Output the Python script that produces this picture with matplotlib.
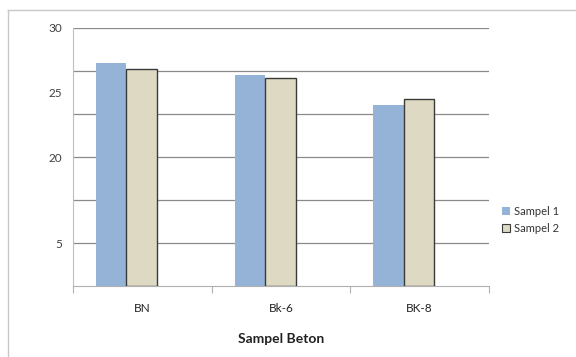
import matplotlib
matplotlib.use("Agg")
import matplotlib.pyplot as plt
from matplotlib.lines import Line2D
from matplotlib.patches import Patch
import numpy as np

plt.rcParams['font.family'] = ['Lato', 'DejaVu Sans']

categories = ["BN", "Bk-6", "BK-8"]
sampel1 = [25.9, 24.5, 21.05]
sampel2 = [25.25, 24.2, 21.8]
ytick_vals = [5, 15, 22.5, 30]
ytick_labels = ["5", "20", "25", "30"]
grid_vals = [5, 10, 15, 20, 25, 30]

fig = plt.figure(figsize=(5.76, 3.57), dpi=100)
ax = fig.add_axes([73/576, 1-286/357, (489-73)/576, (286-28)/357])

x = np.arange(len(categories))
w = 0.22
ax.bar(x - 0.225, sampel1, width=w, color="#95B3D7", edgecolor="none", zorder=3)
ax.bar(x - 0.005, sampel2, width=w, color="#DDD9C3", edgecolor="#3a3a3a", linewidth=1.0, zorder=3)

ax.set_xlim(-0.5, 2.5)
ax.set_ylim(0, 30)
for g in grid_vals:
    ax.axhline(g, color="#8a8a8a", linewidth=0.9, zorder=1)

ax.set_yticks(ytick_vals + [0, 10, 20, 25])
ax.set_yticklabels(ytick_labels + ["", "", "", ""])
ax.set_yticks([0, 5, 10, 15, 20, 25, 30], minor=True)
ax.tick_params(axis='y', which='major', length=0, labelsize=8.5, colors="#404040", pad=8)
ax.tick_params(axis='y', which='minor', length=5, color="#b0b0b0")

ax.set_xticks([-0.5, 0.5, 1.5, 2.5])
ax.set_xticklabels([])
ax.set_xticks(x, minor=True)
ax.set_xticklabels(categories, minor=True)
ax.tick_params(axis='x', which='major', length=5, color="#b0b0b0", direction='out')
ax.tick_params(axis='x', which='minor', length=0, labelsize=8.5, colors="#222222", pad=12)

for s in ["top", "right"]:
    ax.spines[s].set_visible(False)
ax.spines["left"].set_color("#c0c0c0")
ax.spines["bottom"].set_color("#b0b0b0")

ax.set_xlabel("Sampel Beton", fontsize=10, fontweight="bold", color="#222222", labelpad=14)

handles = [Patch(facecolor="#95B3D7", edgecolor="none"),
           Patch(facecolor="#DDD9C3", edgecolor="#3a3a3a", linewidth=0.8)]
fig.legend(handles, ["Sampel 1", "Sampel 2"], loc="center left",
           bbox_to_anchor=(492/576, 1-220/357), frameon=False, fontsize=8,
           handlelength=0.7, handleheight=0.7, handletextpad=0.4, labelspacing=0.5,
           labelcolor="#333333")

fig.add_artist(Line2D([8/576, 1], [1-10/357, 1-10/357], transform=fig.transFigure, color="#c8c8c8", linewidth=1))
fig.add_artist(Line2D([8/576, 8/576], [0, 1-10/357], transform=fig.transFigure, color="#c8c8c8", linewidth=1))

fig.savefig("out.png", dpi=100)
